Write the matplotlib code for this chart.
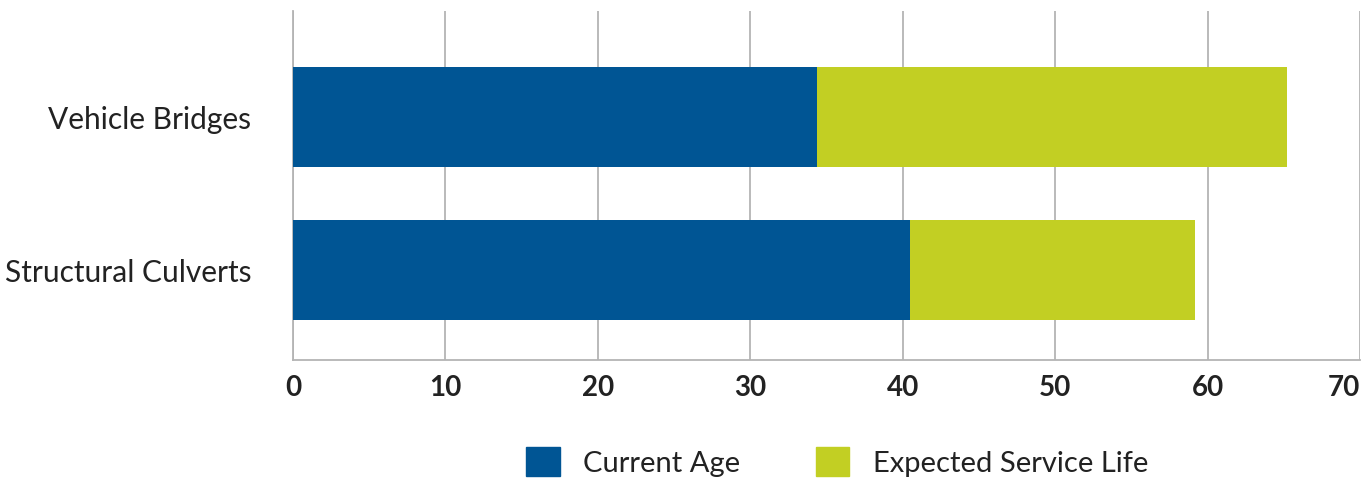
import numpy as np
import matplotlib.pyplot as plt
from matplotlib.patches import Patch

# data
categories = ["Structural Culverts", "Vehicle Bridges"]
current_age = [40.5, 34.4]
service_life = [59.2, 65.2]

COLOR_BLUE = "#005594"
COLOR_GREEN = "#C2CF23"
GRID = "#b4b4b4"

plt.rcParams['font.family'] = ['Lato', 'DejaVu Sans']

fig = plt.figure(figsize=(13.72, 4.8), dpi=100)
ax = fig.add_axes([293/1372, 1-360/480, (1360-293)/1372, (360-11)/480])

y = np.arange(len(categories))
ax.barh(y, service_life, height=0.654, color=COLOR_GREEN, zorder=2)
ax.barh(y, current_age, height=0.654, color=COLOR_BLUE, zorder=3)

ax.set_xlim(0, 70)
ax.set_ylim(-0.588, 1.693)
ax.set_xticks(np.arange(0, 71, 10))
ax.set_yticks(y)
ax.set_yticklabels(categories, fontsize=21.5, color="#222222")
ax.tick_params(axis='y', length=0, pad=30)
ax.tick_params(axis='x', length=0, pad=11, labelsize=20, labelcolor="#222222")
for lab in ax.get_xticklabels():
    lab.set_fontweight('bold')
# last label sits inside the figure edge
ax.get_xticklabels()[-1].set_horizontalalignment('right')

ax.grid(axis='x', color=GRID, linewidth=1.3, zorder=1)
ax.set_axisbelow(True)
for s in ['top', 'right']:
    ax.spines[s].set_visible(False)
ax.spines['left'].set_color(GRID)
ax.spines['bottom'].set_color(GRID)
ax.spines['left'].set_linewidth(1.3)
ax.spines['bottom'].set_linewidth(1.3)

handles = [Patch(color=COLOR_BLUE, label="Current Age"),
           Patch(color=COLOR_GREEN, label="Expected Service Life")]
fig.legend(handles=handles, loc='center', bbox_to_anchor=(837/1372, 1-462/480),
           ncol=2, frameon=False, fontsize=21, handlelength=1.15, handleheight=1.15,
           columnspacing=2.6, handletextpad=0.8, labelcolor="#222222")

fig.savefig("out.png", dpi=100)
